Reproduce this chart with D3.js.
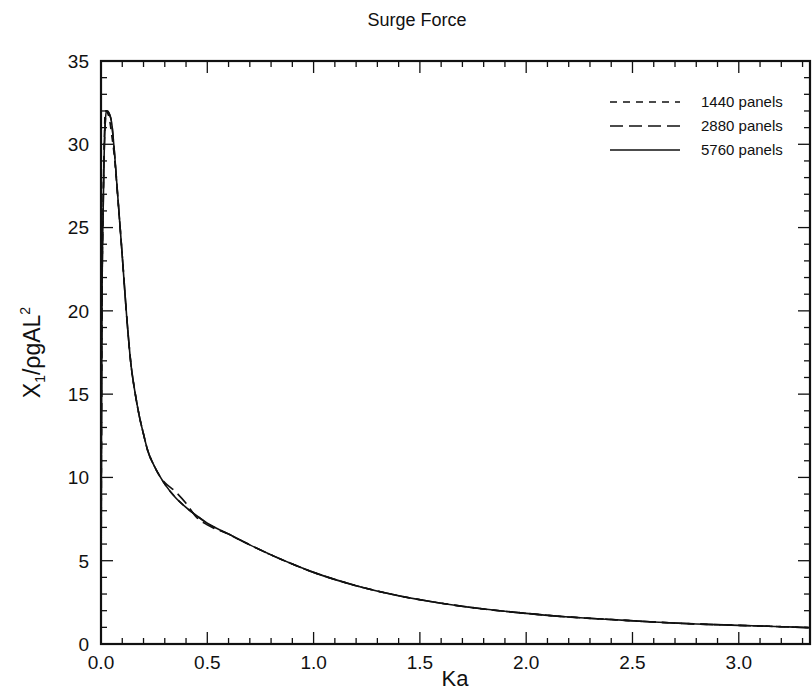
<!DOCTYPE html>
<html>
<head>
<meta charset="utf-8">
<script src="https://cdn.jsdelivr.net/npm/d3@7"></script>
<style>
  body { margin: 0; background: #fff; }
  text { font-family: "Liberation Sans", Arial, sans-serif; fill: #111; }
</style>
</head>
<body>
<div id="chart"></div>
<script>
// Data
let ka = [0, 0.002, 0.005, 0.01, 0.015, 0.02, 0.025, 0.03, 0.04, 0.05, 0.06, 0.08, 0.1, 0.12, 0.14, 0.16, 0.18, 0.2, 0.22, 0.25, 0.28, 0.3, 0.35, 0.4, 0.45, 0.5, 0.6, 0.7, 0.8, 0.9, 1.0, 1.2, 1.4, 1.6, 1.8, 2.0, 2.2, 2.4, 2.6, 2.8, 3.0, 3.2, 3.335];

let panels1440 = [0, 12, 21, 26.5, 30, 32.0, 32.0, 31.9, 31.5, 30.6, 29.6, 26.6, 23.3, 19.8, 16.9, 15.1, 13.7, 12.6, 11.6, 10.7, 10.0, 9.6, 8.8, 8.2, 7.7, 7.25, 6.6, 5.95, 5.35, 4.8, 4.3, 3.5, 2.9, 2.45, 2.1, 1.84, 1.62, 1.47, 1.32, 1.2, 1.12, 1.04, 0.98];
let panels2880 = [0, 12, 21, 26, 29.5, 31.3, 32.0, 32.0, 31.8, 31.3, 30.0, 26.7, 23.3, 19.8, 16.9, 15.1, 13.7, 12.6, 11.6, 10.7, 10.0, 9.7, 9.15, 8.45, 7.6, 7.15, 6.6, 5.95, 5.35, 4.8, 4.3, 3.5, 2.9, 2.45, 2.1, 1.84, 1.62, 1.47, 1.32, 1.2, 1.12, 1.04, 0.98];
let panels5760 = [0, 12, 21, 26, 29.5, 31.3, 32.0, 32.0, 31.8, 31.3, 30.0, 26.7, 23.3, 19.8, 16.9, 15.1, 13.7, 12.6, 11.6, 10.7, 10.0, 9.6, 8.8, 8.2, 7.7, 7.25, 6.6, 5.95, 5.35, 4.8, 4.3, 3.5, 2.9, 2.45, 2.1, 1.84, 1.62, 1.47, 1.32, 1.2, 1.12, 1.04, 0.98];

let seriesNames = ["1440 panels", "2880 panels", "5760 panels"];
let xTicks = [0, 0.5, 1.0, 1.5, 2.0, 2.5, 3.0];
let yTicks = [0, 5, 10, 15, 20, 25, 30, 35];

let svgWidth = 812;
let svgHeight = 692;

let margin = { top: 61, right: 2, bottom: 48, left: 101 };

let width = svgWidth - margin.left - margin.right;
let height = svgHeight - margin.top - margin.bottom;

let svg = d3.select("#chart")
  .append("svg")
  .attr("width", svgWidth)
  .attr("height", svgHeight);

let chartGroup = svg.append("g")
  .attr("transform", `translate(${margin.left}, ${margin.top})`);

let xScale = d3.scaleLinear().domain([0, 3.335]).range([0, width]);
let yScale = d3.scaleLinear().domain([0, 35]).range([height, 0]);

// minor + major ticks, drawn inward on all four sides
let xMinor = d3.range(0, 3.34, 0.1);
let yMinor = d3.range(0, 35.01, 1);

function tickLines(vals, isX, major, side) {
  vals.forEach(function(v) {
    let isMajor = major.some(m => Math.abs(m - v) < 1e-6);
    let len = isMajor ? 12 : 6;
    let line = chartGroup.append("line")
      .attr("stroke", "#111")
      .attr("stroke-width", 1.3);
    if (isX) {
      let x = xScale(v);
      let y0 = side === "bottom" ? height : 0;
      let y1 = side === "bottom" ? height - len : len;
      line.attr("x1", x).attr("x2", x).attr("y1", y0).attr("y2", y1);
    } else {
      let y = yScale(v);
      let x0 = side === "left" ? 0 : width;
      let x1 = side === "left" ? len : width - len;
      line.attr("x1", x0).attr("x2", x1).attr("y1", y).attr("y2", y);
    }
  });
}

tickLines(xMinor, true, xTicks, "bottom");
tickLines(xMinor, true, xTicks, "top");
tickLines(yMinor, false, yTicks, "left");
tickLines(yMinor, false, yTicks, "right");

// frame
chartGroup.append("rect")
  .attr("x", 0)
  .attr("y", 0)
  .attr("width", width)
  .attr("height", height)
  .attr("fill", "none")
  .attr("stroke", "#111")
  .attr("stroke-width", 2.2);

// tick labels
chartGroup.selectAll(".xlab")
  .data(xTicks)
  .enter()
  .append("text")
  .attr("x", d => xScale(d))
  .attr("y", height + 25)
  .attr("text-anchor", "middle")
  .attr("font-size", "19px")
  .text(d => d.toFixed(1));

chartGroup.selectAll(".ylab")
  .data(yTicks)
  .enter()
  .append("text")
  .attr("x", -12)
  .attr("y", d => yScale(d))
  .attr("dy", "0.36em")
  .attr("text-anchor", "end")
  .attr("font-size", "19px")
  .text(d => d);

// curves
let line = d3.line()
  .x(d => xScale(d[0]))
  .y(d => yScale(d[1]))
  .curve(d3.curveMonotoneX);

let allSeries = [panels1440, panels2880, panels5760];
let dashes = ["7,6", "13,6", null];

allSeries.forEach(function(vals, i) {
  let pts = ka.map((k, j) => [k, vals[j]]);
  chartGroup.append("path")
    .datum(pts)
    .attr("fill", "none")
    .attr("stroke", "#111")
    .attr("stroke-width", 1.6)
    .attr("stroke-dasharray", dashes[i])
    .attr("d", line);
});

// legend
let legend = chartGroup.append("g")
  .attr("transform", `translate(${610 - margin.left}, ${102 - margin.top})`);

seriesNames.forEach(function(name, i) {
  legend.append("line")
    .attr("x1", 0)
    .attr("x2", 70)
    .attr("y1", i * 24)
    .attr("y2", i * 24)
    .attr("stroke", "#111")
    .attr("stroke-width", 1.4)
    .attr("stroke-dasharray", dashes[i]);
  legend.append("text")
    .attr("x", 91)
    .attr("y", i * 24)
    .attr("dy", "0.36em")
    .attr("font-size", "15px")
    .text(name);
});

// titles
svg.append("text")
  .attr("x", 417)
  .attr("y", 26)
  .attr("text-anchor", "middle")
  .attr("font-size", "18px")
  .text("Surge Force");

svg.append("text")
  .attr("x", 455)
  .attr("y", 686)
  .attr("text-anchor", "middle")
  .attr("font-size", "22px")
  .text("Ka");

let yLabel = svg.append("text")
  .attr("transform", `translate(40, ${margin.top + height / 2}) rotate(-90)`)
  .attr("text-anchor", "middle")
  .attr("font-size", "23px");
yLabel.append("tspan").text("X");
yLabel.append("tspan").attr("font-size", "14px").attr("dy", "5").text("1");
yLabel.append("tspan").attr("dy", "-5").text("/ρgAL");
yLabel.append("tspan").attr("font-size", "14px").attr("dy", "-10").text("2");
</script>
</body>
</html>
